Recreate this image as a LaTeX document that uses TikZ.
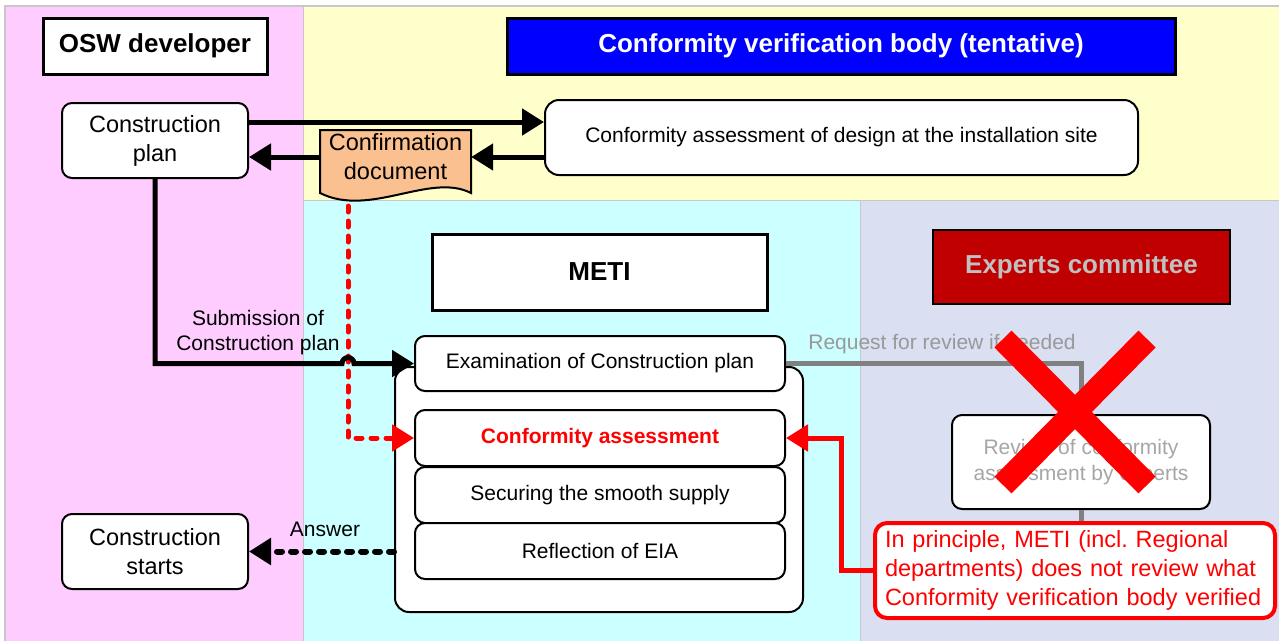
\documentclass[tikz,border=0pt]{standalone}
\usepackage{fontspec}
\setmainfont{Liberation Sans}
\frenchspacing
\usetikzlibrary{arrows.meta,calc}
\definecolor{pinkbg}{HTML}{FFCCFF}
\definecolor{yellowbg}{HTML}{FFFFCC}
\definecolor{cyanbg}{HTML}{CCFFFF}
\definecolor{lavbg}{HTML}{DADFF1}
\definecolor{docfill}{HTML}{FAC090}
\definecolor{darkred}{HTML}{C00000}
\definecolor{lgray}{HTML}{C0C0C0}
\definecolor{mgray}{HTML}{808080}
\definecolor{tgray}{HTML}{999999}
\definecolor{rgray}{HTML}{A6A6A6}
\definecolor{sepgray}{HTML}{C8C8C8}
\definecolor{pureblue}{HTML}{0000FF}
\definecolor{purered}{HTML}{FF0000}
\begin{document}
\begin{tikzpicture}[x=1pt,y=-1pt,
  bigf/.style={font=\fontsize{23.5pt}{29pt}\selectfont},
  normf/.style={font=\fontsize{21pt}{26pt}\selectfont},
  titlef/.style={font=\fontsize{26pt}{30pt}\selectfont\bfseries},
  titlebox/.style={draw=black,line width=3pt,fill=white,titlef,inner sep=0pt},
  rbox/.style={draw=black,line width=2pt,fill=white,rounded corners=10pt,inner sep=0pt,align=center},
  bigarrow/.style={line width=5pt,-{Triangle[length=22pt,width=26pt]}},
  reddot/.style={draw=purered,line width=5pt,line cap=round,dash pattern=on 6pt off 9pt,-{Triangle[length=22pt,width=26pt]}},
  answerline/.style={draw=black,line width=6pt,line cap=round,dash pattern=on 5pt off 9pt,-{Triangle[length=22pt,width=26pt]}},
  redarrow/.style={draw=purered,line width=5pt,-{Triangle[length=22pt,width=26pt]}},
  grayline/.style={draw=mgray,line width=5pt},
]
\useasboundingbox (0,0) rectangle (1279,641);
\fill[white] (0,0) rectangle (1279,641);
% backgrounds
\fill[pinkbg] (5,6) rectangle (303,641);
\fill[yellowbg] (303,6) rectangle (1279,200);
\fill[cyanbg] (303,200) rectangle (860,641);
\fill[lavbg] (860,200) rectangle (1279,641);
\draw[sepgray,line width=1.5pt] (5,641) -- (5,6) -- (1279,6);
\draw[sepgray,line width=1pt] (303,6) -- (303,641);
\draw[sepgray,line width=1pt] (303,200) -- (1279,200);
\draw[sepgray,line width=1pt] (860,200) -- (860,641);

% titles
\node[titlebox,minimum width=224pt,minimum height=56pt] (osw) at (155,46) {OSW developer};
\node[titlebox,fill=pureblue,text=white,minimum width=668pt,minimum height=56pt] (cvb) at (841,46) {Conformity verification body (tentative)};
\node[titlebox,minimum width=335pt,minimum height=76pt] (meti) at (599.5,272) {METI};
\node[titlebox,line width=2.5pt,fill=darkred,text=lgray,minimum width=297pt,minimum height=74pt] (experts) at (1081.5,267) {Experts committee};

% left boxes
\node[rbox,bigf,minimum width=186pt,minimum height=75pt] (cplan) at (155,140.5) {Construction\\plan};
\node[rbox,bigf,minimum width=186pt,minimum height=75pt] (cstart) at (155,551.5) {Construction\\starts};
\node[rbox,normf,minimum width=593pt,minimum height=75pt,rounded corners=14pt] (conf) at (841.5,137.5) {Conformity assessment of design at the installation site};

% confirmation document
\path node[minimum width=151pt,minimum height=60pt,inner sep=0pt] (doc) at (395.5,160) {};
\coordinate (hop) at (348,0);
\draw[black,line width=2pt,fill=docfill] (320,130) -- (471,130) -- (471,193)
  .. controls (430,172) and (370,218) .. (320,193) -- cycle;
\node[bigf,align=center,inner sep=0pt] (doctext) at (395.5,157) {Confirmation\\document};
\coordinate (rd0) at (348,206);

% METI container and sub boxes
\node[rbox,minimum width=408pt,minimum height=245pt,rounded corners=14pt] (cont) at (599,489.5) {};
\node[rbox,normf,minimum width=370pt,minimum height=55pt] (exam) at (600,363.5) {Examination of Construction plan};
\node[rbox,normf,minimum width=370pt,minimum height=56pt,text=purered,font=\fontsize{21pt}{26pt}\selectfont\bfseries] (ca) at (600,438) {Conformity assessment};
\node[rbox,normf,minimum width=370pt,minimum height=56pt] (sec) at (600,495) {Securing the smooth supply};
\node[rbox,normf,minimum width=370pt,minimum height=56pt] (refl) at (600,551) {Reflection of EIA};

% red dotted line from the document
\draw[reddot] (rd0) |- (ca.west);

% experts side
\node[rbox,normf,text=rgray,minimum width=258pt,minimum height=94pt] (review) at (1081,462) {Review of conformity\\assessment by experts};
\node[draw=purered,line width=4pt,fill=white,rounded corners=12pt,text=purered,bigf,align=left,
      text width=380pt,inner xsep=10pt,inner ysep=0pt,minimum height=95pt] (note) at (1075,570.5)
  {In principle, METI (incl. Regional\\departments) does not review what\\Conformity verification body verified};

% arrows top
\draw[bigarrow] ([yshift=18.5pt]cplan.east) coordinate (a1) -- (a1 -| conf.west);
\draw[bigarrow] ([yshift=-19.5pt]conf.west) coordinate (a2) -- (a2 -| doc.east);
\draw[bigarrow] (doc.west |- a2) -- (cplan.east |- a2);

% submission
\draw[bigarrow] (cplan.south) |- ([xshift=-6pt]hop |- exam.west)
  arc[start angle=180,end angle=0,radius=6pt] -- (exam.west);
\node[normf,align=center,inner sep=0pt,font=\fontsize{21pt}{25pt}\selectfont] (sublabel) at (258,332.5) {Submission of\\Construction plan};

% answer
\draw[answerline] (cont.west |- cstart.east) -- (cstart.east);
\node[normf,inner sep=0pt] (anslabel) at (325,529) {Answer};

% request for review
\draw[grayline] (exam.east) -| (review.north);
\node[normf,text=tgray,inner sep=0pt] (reqlabel) at (942,344) {Request for review if needed};
\draw[grayline] (review.south) -- (review.south |- note.north);

% red arrow from note
\draw[redarrow] (note.west) -- ++(-32,0) |- (ca.east);

% red cross
\draw[purered,line width=24pt] (1003,339) -- (1147,485);
\draw[purered,line width=24pt] (1147,339) -- (1003,485);
\end{tikzpicture}
\end{document}
